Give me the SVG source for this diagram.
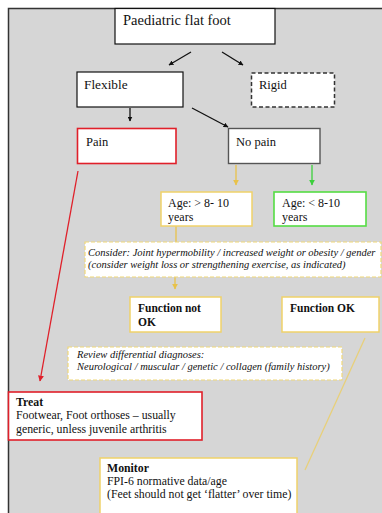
<svg xmlns="http://www.w3.org/2000/svg" width="382" height="513" viewBox="0 0 382 513">
<defs>
<style>
.t{font-family:"Liberation Serif","Times New Roman",serif;font-size:12.5px;fill:#111}
.b{font-weight:bold}
.i{font-style:italic;font-size:10.5px}
.s{font-size:11.8px}
.box{fill:#fff;stroke:#111;stroke-width:1.2}
.yel{fill:#fff;stroke:#f0d26a;stroke-width:1.5}
.ydash{fill:#fff;stroke:#f0d878;stroke-width:1.2;stroke-dasharray:4 2}
.con{fill:none;stroke-width:1.3}
</style>
<marker id="ak" viewBox="0 0 10 10" refX="9" refY="5" markerWidth="5" markerHeight="5" orient="auto" markerUnits="userSpaceOnUse"><path d="M0,0L10,5L0,10z" fill="#111"/></marker>
<marker id="ay" viewBox="0 0 10 10" refX="9" refY="5" markerWidth="6" markerHeight="6" orient="auto" markerUnits="userSpaceOnUse"><path d="M0,0L10,5L0,10z" fill="#e8c24a"/></marker>
<marker id="ag" viewBox="0 0 10 10" refX="9" refY="5" markerWidth="6" markerHeight="6" orient="auto" markerUnits="userSpaceOnUse"><path d="M0,0L10,5L0,10z" fill="#3ccf3c"/></marker>
<marker id="ar" viewBox="0 0 10 10" refX="9" refY="5" markerWidth="6" markerHeight="6" orient="auto" markerUnits="userSpaceOnUse"><path d="M0,0L10,5L0,10z" fill="#e0202a"/></marker>
</defs>
<rect width="382" height="513" fill="#fff"/>
<rect x="8" y="8" width="374" height="505" fill="#d6d6d6"/>
<path d="M8.5,513V8.5H382" fill="none" stroke="#333" stroke-width="1.5"/>

<g id="connectors">
<line class="con" x1="191" y1="52" x2="169" y2="65" stroke="#111" marker-end="url(#ak)"/>
<line class="con" x1="222" y1="52" x2="243" y2="65" stroke="#111" marker-end="url(#ak)"/>
<line class="con" x1="130" y1="108" x2="130" y2="121" stroke="#111" marker-end="url(#ak)"/>
<line class="con" x1="192" y1="108" x2="228" y2="127" stroke="#111" marker-end="url(#ak)"/>
<line class="con" x1="236" y1="165" x2="236" y2="185" stroke="#e8c24a" marker-end="url(#ay)"/>
<line class="con" x1="312" y1="165" x2="312" y2="185" stroke="#3ccf3c" marker-end="url(#ag)"/>
<line class="con" x1="176" y1="226" x2="176" y2="242" stroke="#e8c24a"/>
<line class="con" x1="175" y1="277" x2="175" y2="289" stroke="#e8c24a" marker-end="url(#ay)"/>
<line class="con" x1="78" y1="171" x2="40" y2="381" stroke="#e0202a" stroke-width="1.6" marker-end="url(#ar)"/>
<line class="con" x1="365" y1="338" x2="305" y2="470" stroke="#e8d07a" stroke-width="1.2"/>
</g>

<g id="n-paediatric">
<rect class="box" x="115" y="8.5" width="160" height="35.5"/>
<text class="t" x="123" y="25" style="font-size:14.5px">Paediatric flat foot</text>
</g>
<g id="n-flexible">
<rect class="box" x="77" y="72" width="106" height="35"/>
<text class="t" x="84" y="89" style="font-size:13.3px">Flexible</text>
</g>
<g id="n-rigid">
<rect x="251.5" y="73" width="83" height="34" fill="#fff" stroke="#333" stroke-width="1.5" stroke-dasharray="4 2.5"/>
<text class="t" x="259" y="89">Rigid</text>
</g>
<g id="n-pain">
<rect x="77.5" y="128.5" width="98.5" height="35" fill="#fff" stroke="#e0202a" stroke-width="1.6"/>
<text class="t" x="86" y="146">Pain</text>
</g>
<g id="n-nopain">
<rect x="228.5" y="128.5" width="91.5" height="35" fill="#fff" stroke="#555" stroke-width="1.4"/>
<text class="t" x="236" y="146">No pain</text>
</g>
<g id="n-age-over">
<rect class="yel" x="161" y="192" width="91" height="34"/>
<text class="t" x="168" y="207" style="font-size:12px">Age: &gt; 8- 10</text>
<text class="t" x="168" y="221" style="font-size:12px">years</text>
</g>
<g id="n-age-under">
<rect x="274" y="192" width="92" height="34" fill="#fff" stroke="#55dd44" stroke-width="1.6"/>
<text class="t" x="282" y="207" style="font-size:12px">Age: &lt; 8-10</text>
<text class="t" x="282" y="221" style="font-size:12px">years</text>
</g>
<g id="n-consider">
<rect class="ydash" x="85" y="242" width="296" height="35"/>
<text class="t i" x="88" y="256">Consider: Joint hypermobility / increased weight or obesity / gender</text>
<text class="t i" x="88" y="268">(consider weight loss or strengthening exercise, as indicated)</text>
</g>
<g id="n-func-not">
<rect class="yel" x="130" y="297" width="91" height="35"/>
<text class="t b" x="138" y="312" style="font-size:11.5px">Function not</text>
<text class="t b" x="138" y="326" style="font-size:11.5px">OK</text>
</g>
<g id="n-func-ok">
<rect class="yel" x="282" y="297" width="97" height="35"/>
<text class="t b" x="290" y="312" style="font-size:11.5px">Function OK</text>
</g>
<g id="n-review">
<rect class="ydash" x="68" y="347" width="274" height="33"/>
<text class="t i" x="77" y="358">Review differential diagnoses:</text>
<text class="t i" x="77" y="370">Neurological / muscular / genetic / collagen (family history)</text>
</g>
<g id="n-treat">
<rect x="8.5" y="392" width="193.5" height="48" fill="#fff" stroke="#e0202a" stroke-width="1.6"/>
<text class="t b s" x="16" y="406">Treat</text>
<text class="t s" x="16" y="419">Footwear, Foot orthoses – usually</text>
<text class="t s" x="16" y="433">generic, unless juvenile arthritis</text>
</g>
<g id="n-monitor">
<rect class="yel" x="100" y="458" width="197" height="70"/>
<text class="t b s" x="107" y="472">Monitor</text>
<text class="t s" x="107" y="485">FPI-6 normative data/age</text>
<text class="t s" x="107" y="498">(Feet should not get ‘flatter’ over time)</text>
</g>
</svg>
